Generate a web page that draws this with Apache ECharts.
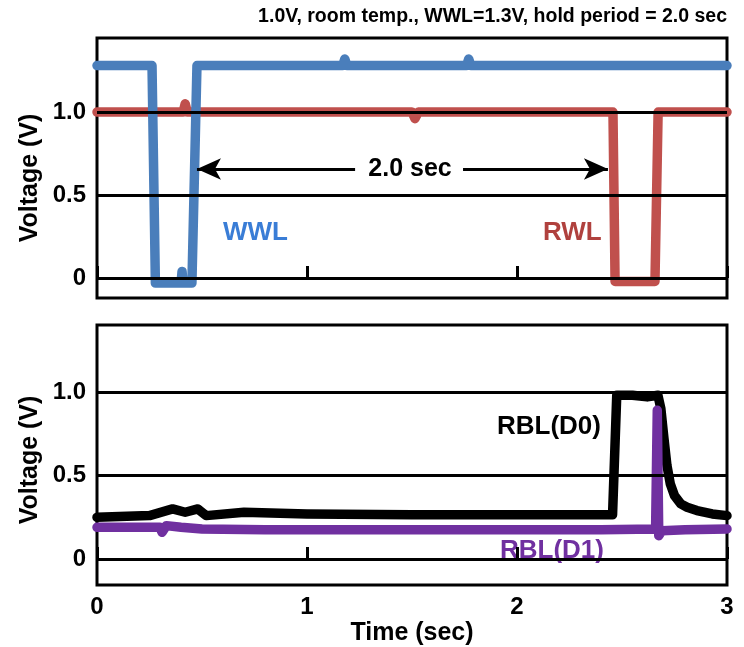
<!doctype html>
<html>
<head>
<meta charset="utf-8">
<title>WWL / RWL / RBL waveforms</title>
<style>
	html, body { margin: 0; padding: 0; background: #fff; }
	#main { width: 744px; height: 647px; }
</style>
</head>
<body>
<div id="main"></div>
<script src="https://cdn.jsdelivr.net/npm/echarts@6/dist/echarts.min.js"></script>
<script>
// values: time in sec, voltage in V
var wwlTime = [0, 0.12, 0.25, 0.262, 0.278, 0.33, 0.40, 0.405, 0.41, 0.452, 0.476, 0.8, 1.17, 1.18, 1.19, 1.5, 1.76, 1.77, 1.78, 2.3, 3.0];
var wwlVolt = [1.28, 1.28, 1.28, 1.28, -0.03, -0.03, -0.03, 0.04, -0.03, -0.03, 1.28, 1.28, 1.28, 1.32, 1.28, 1.28, 1.28, 1.32, 1.28, 1.28, 1.28];

var rwlTime = [0, 0.2, 0.41, 0.42, 0.43, 1.0, 1.50, 1.514, 1.53, 2.0, 2.457, 2.467, 2.55, 2.657, 2.672, 2.8, 3.0];
var rwlVolt = [1.0, 1.0, 1.0, 1.05, 1.0, 1.0, 1.0, 0.96, 1.0, 1.0, 1.0, -0.02, -0.02, -0.02, 1.0, 1.0, 1.0];

var d0Time = [0, 0.25, 0.36, 0.42, 0.48, 0.52, 0.7, 1.0, 1.5, 2.0, 2.455, 2.475, 2.55, 2.62, 2.671, 2.685, 2.70, 2.714, 2.73, 2.75, 2.78, 2.81, 2.857, 2.93, 3.0];
var d0Volt = [0.25, 0.26, 0.3, 0.28, 0.3, 0.26, 0.28, 0.27, 0.265, 0.265, 0.265, 0.98, 0.98, 0.97, 0.98, 0.9, 0.72, 0.56, 0.45, 0.38, 0.33, 0.31, 0.29, 0.27, 0.26];

var d1Time = [0, 0.25, 0.3, 0.31, 0.33, 0.4, 0.5, 0.8, 1.2, 1.6, 2.0, 2.4, 2.66, 2.668, 2.675, 2.69, 2.8, 3.0];
var d1Volt = [0.19, 0.19, 0.19, 0.16, 0.2, 0.19, 0.18, 0.175, 0.175, 0.175, 0.175, 0.175, 0.18, 0.89, 0.14, 0.17, 0.175, 0.18];

var xTicks = [0, 1, 2, 3];
var yTicks = [0, 0.5, 1.0];

function pairs(t, v) {
	var out = [];
	for (var i = 0; i < t.length; i++) out.push([t[i], v[i]]);
	return out;
}

var FONT = '"Liberation Sans", Arial, sans-serif';

function xAxisOf(idx, showLabel) {
	return {
		type: 'value', gridIndex: idx, min: 0, max: 3, interval: 1,
		axisLine: { show: false },
		axisTick: { show: true, inside: true, length: 12, lineStyle: { color: '#000', width: 3 } },
		axisLabel: {
			show: showLabel, color: '#000', fontFamily: FONT, fontWeight: 'bold', fontSize: 24, margin: 10,
			customValues: xTicks
		},
		splitLine: { show: false },
		name: showLabel ? 'Time (sec)' : '', nameLocation: 'middle', nameGap: 36,
		nameTextStyle: { color: '#000', fontFamily: FONT, fontWeight: 'bold', fontSize: 25 }
	};
}

function yAxisOf(idx, lo, hi) {
	return {
		type: 'value', gridIndex: idx, min: lo, max: hi,
		axisLine: { show: false },
		axisTick: { show: false },
		axisLabel: {
			color: '#000', fontFamily: FONT, fontWeight: 'bold', fontSize: 24, margin: 11,
			customValues: yTicks,
			formatter: function (v) { return v === 0 ? '0' : v.toFixed(1); }
		},
		splitLine: { show: false }
	};
}

// horizontal grid lines at 0 / 0.5 / 1.0 drawn under the traces
function gridLines(idx) {
	return {
		type: 'line', xAxisIndex: idx, yAxisIndex: idx, data: [], z: 1, silent: true,
		markLine: {
			silent: true, symbol: 'none', animation: false,
			lineStyle: { color: '#000', width: 3, type: 'solid' },
			label: { show: false },
			data: yTicks.map(function (v) { return { yAxis: v }; })
		}
	};
}

function trace(idx, t, v, color) {
	return {
		type: 'line', xAxisIndex: idx, yAxisIndex: idx, data: pairs(t, v), z: 3,
		showSymbol: false, animation: false,
		lineStyle: { color: color, width: 9.5, cap: 'round', join: 'round' }
	};
}

function label(text, x, y, size, color, align, rot) {
	return {
		type: 'text', x: x, y: y, rotation: rot || 0,
		style: { text: text, font: 'bold ' + size + 'px ' + FONT, fill: color, textAlign: align, textVerticalAlign: 'middle' }
	};
}

var chart = echarts.init(document.getElementById('main'));
var option = {
	backgroundColor: '#fff',
	animation: false,
	grid: [
		{ left: 97, top: 38, width: 630, height: 260, show: true, borderColor: '#000', borderWidth: 3, backgroundColor: 'transparent' },
		{ left: 97, top: 325, width: 630, height: 261, show: true, borderColor: '#000', borderWidth: 3, backgroundColor: 'transparent' }
	],
	xAxis: [xAxisOf(0, false), xAxisOf(1, true)],
	yAxis: [yAxisOf(0, -0.12, 1.446), yAxisOf(1, -0.155, 1.4)],
	series: [
		gridLines(0),
		gridLines(1),
		trace(0, rwlTime, rwlVolt, '#c0504d'),
		trace(0, wwlTime, wwlVolt, '#4a7ebb'),
		trace(1, d0Time, d0Volt, '#000'),
		trace(1, d1Time, d1Volt, '#7030a0'),
		{
			// the 2.0 sec hold arrow
			type: 'line', xAxisIndex: 0, yAxisIndex: 0, data: [], z: 4, silent: true,
			markLine: {
				silent: true, animation: false, symbolSize: [16, 24],
				lineStyle: { color: '#000', width: 3, type: 'solid' },
				label: { show: false },
				data: [
					[{ coord: [0.476, 0.657], symbol: 'arrow' }, { coord: [1.229, 0.657], symbol: 'none' }],
					[{ coord: [1.743, 0.657], symbol: 'none' }, { coord: [2.433, 0.657], symbol: 'arrow' }]
				]
			}
		}
	],
	graphic: [
		label('1.0V, room temp., WWL=1.3V, hold period = 2.0 sec', 727, 17, 19.5, '#000', 'right'),
		label('Voltage (V)', 30, 178, 25, '#000', 'center', Math.PI / 2),
		label('Voltage (V)', 30, 460, 25, '#000', 'center', Math.PI / 2),
		label('2.0 sec', 410, 169, 25, '#000', 'center'),
		label('WWL', 223, 233, 26, '#3a7dd6', 'left'),
		label('RWL', 543, 233, 26, '#b0413e', 'left'),
		label('RBL(D0)', 497, 427, 26, '#000', 'left'),
		label('RBL(D1)', 500, 551, 26, '#7030a0', 'left')
	]
};
chart.setOption(option);
</script>
</body>
</html>
